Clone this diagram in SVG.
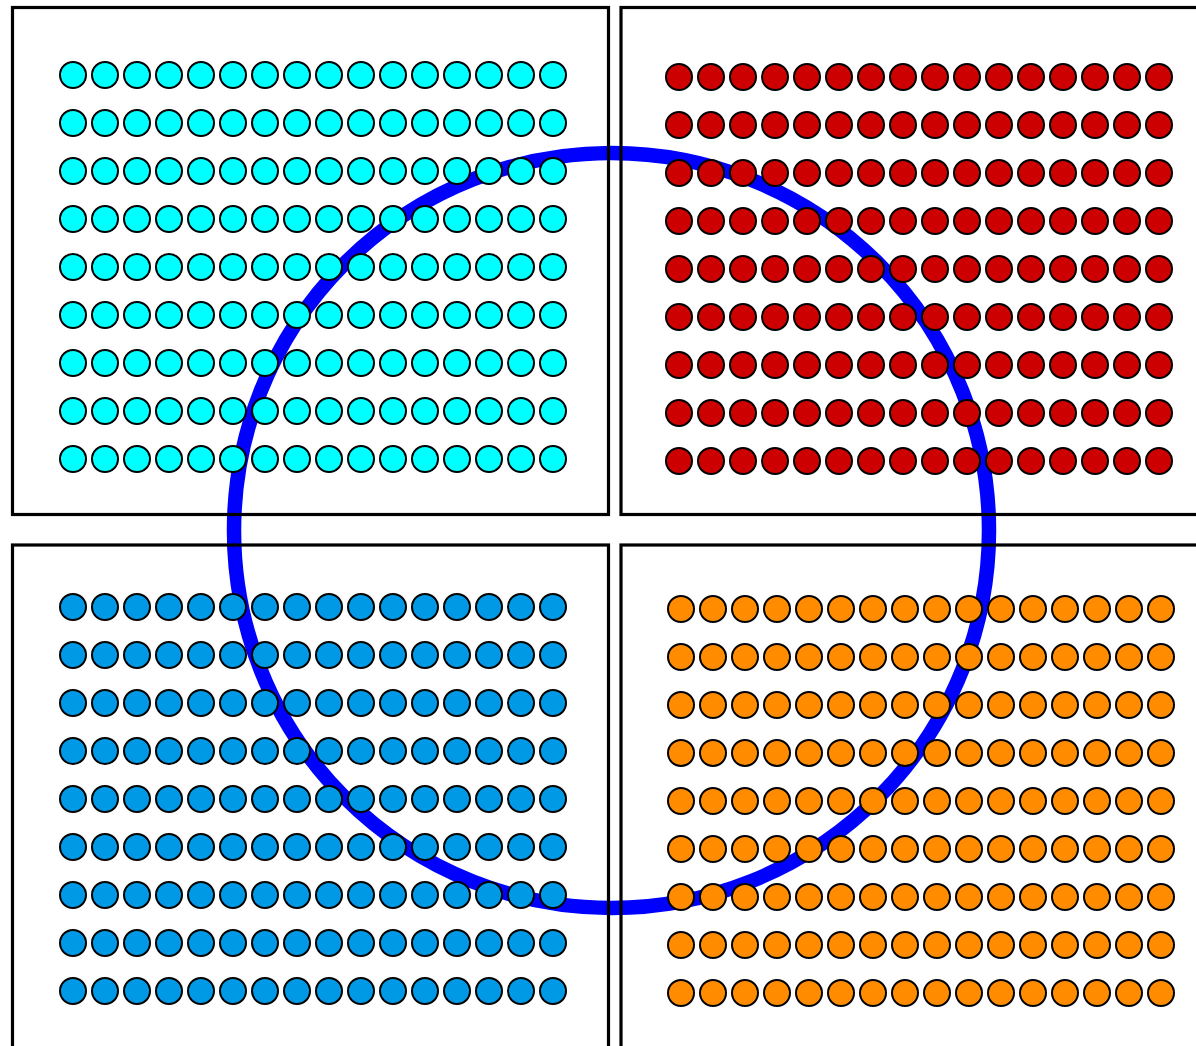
<svg xmlns="http://www.w3.org/2000/svg" xmlns:xlink="http://www.w3.org/1999/xlink" width="1196" height="1046" viewBox="0 0 1196 1046">
<style>
.box{fill:none;stroke:#000;stroke-width:3.2}
.dots{stroke:#000;stroke-width:2}
.ring{fill:none;stroke:#0000ff;stroke-width:14.5}
</style>
<defs>
<g id="row">
<circle cx="0" cy="0" r="13"/><circle cx="32" cy="0" r="13"/><circle cx="64" cy="0" r="13"/><circle cx="96" cy="0" r="13"/>
<circle cx="128" cy="0" r="13"/><circle cx="160" cy="0" r="13"/><circle cx="192" cy="0" r="13"/><circle cx="224" cy="0" r="13"/>
<circle cx="256" cy="0" r="13"/><circle cx="288" cy="0" r="13"/><circle cx="320" cy="0" r="13"/><circle cx="352" cy="0" r="13"/>
<circle cx="384" cy="0" r="13"/><circle cx="416" cy="0" r="13"/><circle cx="448" cy="0" r="13"/><circle cx="480" cy="0" r="13"/>
</g>
<g id="grid">
<use xlink:href="#row" href="#row" y="0"/><use xlink:href="#row" href="#row" y="48"/><use xlink:href="#row" href="#row" y="96"/>
<use xlink:href="#row" href="#row" y="144"/><use xlink:href="#row" href="#row" y="192"/><use xlink:href="#row" href="#row" y="240"/>
<use xlink:href="#row" href="#row" y="288"/><use xlink:href="#row" href="#row" y="336"/><use xlink:href="#row" href="#row" y="384"/>
</g>
</defs>
<rect width="1196" height="1046" fill="#fff"/>
<g id="ring"><circle class="ring" cx="611.5" cy="530.5" r="377.5"/></g>
<g id="boxes">
<rect class="box" x="12.5" y="7.5" width="596" height="507"/>
<rect class="box" x="621" y="7.5" width="600" height="507"/>
<rect class="box" x="12.5" y="545" width="596" height="520"/>
<rect class="box" x="621" y="545" width="600" height="520"/>
</g>
<g id="cyan-grid" class="dots" fill="#00ffff"><use xlink:href="#grid" href="#grid" x="73" y="75"/></g>
<g id="red-grid" class="dots" fill="#cc0000"><use xlink:href="#grid" href="#grid" x="679" y="77"/></g>
<g id="blue-grid" class="dots" fill="#0099e6"><use xlink:href="#grid" href="#grid" x="73" y="607"/></g>
<g id="orange-grid" class="dots" fill="#ff8c00"><use xlink:href="#grid" href="#grid" x="681" y="609"/></g>
</svg>
